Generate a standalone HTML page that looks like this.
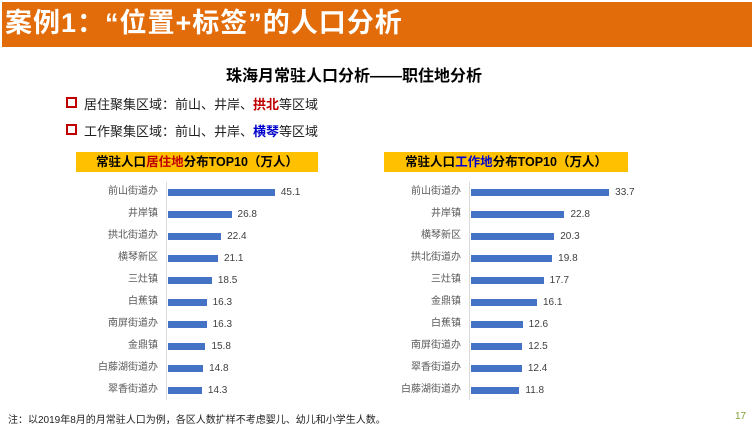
<!DOCTYPE html>
<html><head><meta charset="utf-8"><style>
body{margin:0;width:754px;height:426px;background:#fff;position:relative;overflow:hidden;font-family:"Liberation Sans","Noto Sans CJK SC",sans-serif}
.a{position:absolute;white-space:nowrap}
.hdr{left:2px;top:2px;width:750px;height:45px;background:#E36C0A}
.lbl{font-size:10px;color:#595959;text-align:right;width:100px;line-height:12px}
.bar{height:7px;background:#4472C4}
.val{font-size:10px;color:#404040;line-height:12px}
.yb{background:#FFC000;height:20px;font-size:12.5px;font-weight:bold;color:#000;text-align:center;line-height:20px}
.chk{display:inline-block;width:7px;height:7px;border:2px solid #C00000;margin-right:7px;vertical-align:1px}
</style></head><body>
<div class="a hdr"></div>
<div class="a" style="left:5px;top:5px;font-size:27px;letter-spacing:1px;font-weight:bold;color:#fff;line-height:36px">案例1：“位置+标签”的人口分析</div>
<div class="a" style="left:226px;top:62px;font-size:16px;font-weight:bold;color:#000">珠海月常驻人口分析——职住地分析</div>
<div class="a" style="left:66px;top:94px;font-size:13px;color:#222"><span class="chk"></span>居住聚集区域：前山、井岸、<b style="color:#C00000">拱北</b>等区域</div>
<div class="a" style="left:66px;top:121px;font-size:13px;color:#222"><span class="chk"></span>工作聚集区域：前山、井岸、<b style="color:#0000CC">横琴</b>等区域</div>
<div class="a yb" style="left:76px;top:152px;width:242px">常驻人口<span style="color:#C00000">居住地</span>分布TOP10（万人）</div>
<div class="a yb" style="left:384px;top:152px;width:244px">常驻人口<span style="color:#0000CC">工作地</span>分布TOP10（万人）</div>
<div class="a" style="left:166px;top:182px;width:1px;height:218px;background:#d9d9d9"></div>
<div class="a" style="left:469px;top:182px;width:1px;height:218px;background:#d9d9d9"></div>
<div id="c"></div>
<div class="a" style="left:8px;top:411px;font-size:10px;color:#222">注：以2019年8月的月常驻人口为例，各区人数扩样不考虑婴儿、幼儿和小学生人数。</div>
<div class="a" style="left:735px;top:411px;font-size:10px;color:#7FA33A">17</div>
<script>
var L=[["前山街道办",45.1],["井岸镇",26.8],["拱北街道办",22.4],["横琴新区",21.1],["三灶镇",18.5],["白蕉镇",16.3],["南屏街道办",16.3],["金鼎镇",15.8],["白藤湖街道办",14.8],["翠香街道办",14.3]];
var R=[["前山街道办",33.7],["井岸镇",22.8],["横琴新区",20.3],["拱北街道办",19.8],["三灶镇",17.7],["金鼎镇",16.1],["白蕉镇",12.6],["南屏街道办",12.5],["翠香街道办",12.4],["白藤湖街道办",11.8]];
var h="";
function d(arr,x0,s){arr.forEach(function(e,i){var y=192+i*22;var w=e[1]*s;
h+='<div class="a lbl" style="left:'+(x0-110)+'px;top:'+(y-6)+'px">'+e[0]+'</div>';
h+='<div class="a bar" style="left:'+x0+'px;top:'+(y-3.5)+'px;width:'+w+'px"></div>';
h+='<div class="a val" style="left:'+(x0+w+6)+'px;top:'+(y-5)+'px">'+e[1].toFixed(1)+'</div>';});}
d(L,168,2.37);d(R,471,4.1);
document.getElementById("c").innerHTML=h;
</script>
</body></html>
